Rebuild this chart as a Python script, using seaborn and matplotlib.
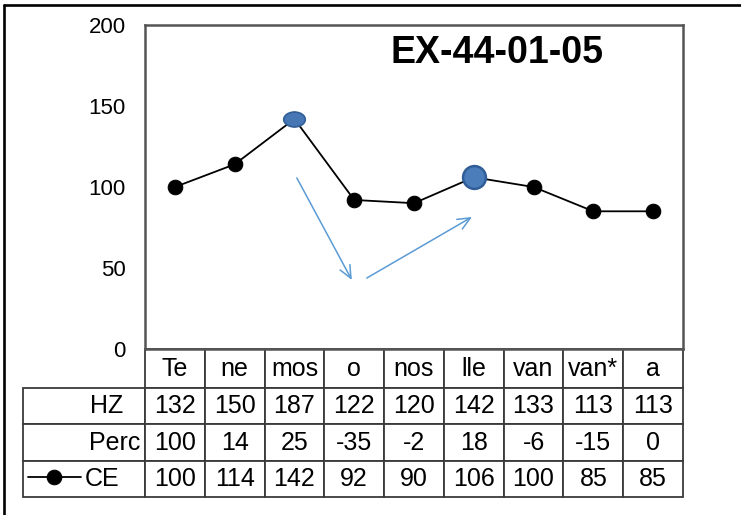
import matplotlib
matplotlib.use("Agg")
import matplotlib.pyplot as plt
import numpy as np
import pandas as pd
import seaborn as sns
from matplotlib.lines import Line2D
from matplotlib.path import Path

# datos de la tabla
silabas = ["Te", "ne", "mos", "o", "nos", "lle", "van", "van*", "a"]
hz = [132, 150, 187, 122, 120, 142, 133, 113, 113]
perc = [100, 14, 25, -35, -2, 18, -6, -15, 0]
ce = [100, 114, 142, 92, 90, 106, 100, 85, 85]
destacadas = ["mos", "lle"]

# flechas (x en índice de sílaba, y en valor CE)
flecha_baja = [(2.04, 105.6), (2.96, 42.6)]
flecha_sube = [(3.21, 43.8), (4.97, 81.5)]

sns.set_style("white")
plt.rcParams["font.family"] = ["Liberation Sans", "DejaVu Sans"]
plt.rcParams["text.color"] = "black"
plt.rcParams["ytick.color"] = "black"
plt.rcParams["xtick.color"] = "black"

df = pd.DataFrame({"pos": np.arange(len(silabas)), "silaba": silabas, "CE": ce})

W, H = 741, 515
fig = plt.figure(figsize=(W / 100, H / 100), dpi=100)
ax = fig.add_axes([145 / W, 1 - 349 / H, 538 / W, 324 / H])

sns.lineplot(data=df, x="pos", y="CE", color="black", lw=1.3, marker="o",
             markersize=10.5, markeredgecolor="black", ax=ax, legend=False)
linea = ax.lines[0]

# puntos destacados en azul
t = np.linspace(0, 2 * np.pi, 60)
elipse = Path(np.column_stack([1.45 * np.cos(t), np.sin(t)]))
d_mos = df[df["silaba"] == destacadas[0]]
d_lle = df[df["silaba"] == destacadas[1]]
sns.scatterplot(data=d_mos, x="pos", y="CE", marker=elipse, s=240,
                color="#4677B4", edgecolor="#2F5E98", linewidth=1.2, ax=ax, zorder=5)
sns.scatterplot(data=d_lle, x="pos", y="CE", marker="o", s=270,
                color="#4A7DBA", edgecolor="#2F5E98", linewidth=1.8, ax=ax, zorder=5)

for ini, fin in [flecha_baja, flecha_sube]:
    ax.annotate("", xy=fin, xytext=ini,
                arrowprops=dict(arrowstyle="->,head_length=0.9,head_width=0.4",
                                color="#5B9BD5", lw=1.1, shrinkA=0, shrinkB=0))

ax.set_xlim(-0.5, len(silabas) - 0.5)
ax.set_ylim(0, 200)
ax.set_yticks([0, 50, 100, 150, 200])
ax.set_xticks([])
ax.set_xlabel("")
ax.set_ylabel("")
ax.tick_params(axis="y", length=0, pad=14, labelsize=16)
for sp in ax.spines.values():
    sp.set_color("#555555")
    sp.set_linewidth(1.8)

ax.text(0.654, 0.914, "EX-44-01-05", transform=ax.transAxes, ha="center", va="center",
        fontsize=27, fontweight="bold", color="black")

# tabla de datos
filas = [[""] + silabas,
         ["HZ"] + [str(v) for v in hz],
         ["Perc"] + [str(v) for v in perc],
         [""] + [str(v) for v in ce]]
anchos = [122] + [59.8] * len(silabas)
tabla = ax.table(cellText=filas, colWidths=anchos, cellLoc="center",
                 bbox=[(23 - 145) / 538, -(497 - 349) / 324, (683 - 23) / 538, 148 / 324])
tabla.auto_set_font_size(False)
tabla.set_fontsize(18)
pads = {1: 0.18, 2: 0.04}
for (r, c), cell in tabla.get_celld().items():
    cell.set_edgecolor("#3a3a3a")
    cell.set_linewidth(1.3)
    cell.set_height(39 if r == 0 else 36.3)
    cell.get_text().set_color("black")
    if c == 0:
        cell._loc = "right"
        cell.get_text().set_ha("right")
        cell.PAD = pads.get(r, 0.1)
tabla[0, 0].visible_edges = ""

ax.legend(handles=[linea], labels=["CE"], loc="center left",
          bbox_to_anchor=(28 / W, 1 - 479 / H), bbox_transform=fig.transFigure,
          frameon=False, fontsize=18, handlelength=2.1, handletextpad=0.15,
          borderpad=0, borderaxespad=0)

# marco exterior
fig.add_artist(Line2D([4 / W, 1], [1 - 5 / H, 1 - 5 / H], color="black", lw=1.9))
fig.add_artist(Line2D([4 / W, 4 / W], [0, 1 - 5 / H], color="black", lw=1.9))

fig.savefig("out.png", dpi=100)
